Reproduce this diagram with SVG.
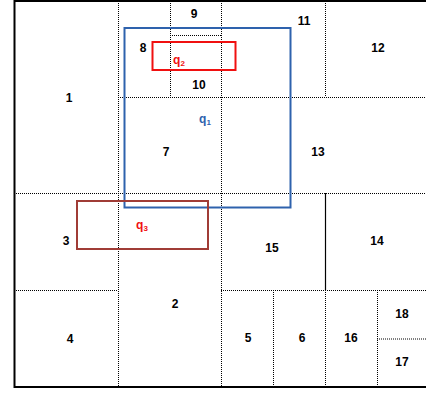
<svg xmlns="http://www.w3.org/2000/svg" width="426" height="393" viewBox="0 0 426 393">
<style>
.d{stroke:#000;stroke-width:1;stroke-dasharray:1 1;fill:none}
.s{stroke:#000;stroke-width:1.2;fill:none}
.b{stroke:#000;stroke-width:2;fill:none}
text{font-family:"Liberation Sans",Arial,sans-serif;font-weight:bold;font-size:12px;text-anchor:middle}
.sub{font-size:8px}
</style>
<rect width="426" height="393" fill="#fff"/>
<g id="connectors">
<line class="d" x1="118.5" y1="1" x2="118.5" y2="387"/>
<line class="d" x1="14" y1="193.5" x2="426" y2="193.5"/>
<line class="d" x1="118" y1="97.5" x2="426" y2="97.5"/>
<line class="d" x1="170.5" y1="1" x2="170.5" y2="97"/>
<line class="d" x1="170" y1="35.5" x2="221" y2="35.5"/>
<line class="d" x1="221.5" y1="1" x2="221.5" y2="387"/>
<line class="d" x1="325.5" y1="1" x2="325.5" y2="97"/>
<line class="s" x1="325.5" y1="193" x2="325.5" y2="290"/>
<line class="d" x1="325.5" y1="290" x2="325.5" y2="387"/>
<line class="d" x1="14" y1="290.5" x2="118" y2="290.5"/>
<line class="d" x1="221" y1="290.5" x2="426" y2="290.5"/>
<line class="d" x1="273.5" y1="290" x2="273.5" y2="387"/>
<line class="d" x1="377.5" y1="290" x2="377.5" y2="387"/>
<line class="d" x1="377" y1="339" x2="426" y2="339"/>
<path class="b" d="M426 1H14.5V387H426"/>
</g>
<g id="q1"><rect x="124.5" y="28" width="166" height="179.5" fill="none" stroke="#2e62ad" stroke-width="2"/>
<text x="205" y="123" fill="#2e62ad">q<tspan class="sub" dy="2">1</tspan></text></g>
<g id="q2"><rect x="152.5" y="42" width="83" height="28" fill="none" stroke="#f01010" stroke-width="2"/>
<text x="179" y="64" fill="#f01010">q<tspan class="sub" dy="2">2</tspan></text></g>
<g id="q3"><rect x="77" y="201" width="131" height="48" fill="none" stroke="#a03c36" stroke-width="2"/>
<text x="142" y="229" fill="#f01010">q<tspan class="sub" dy="2">3</tspan></text></g>
<g id="n1"><text x="69" y="102">1</text></g>
<g id="n9"><text x="194" y="18">9</text></g>
<g id="n8"><text x="143" y="52">8</text></g>
<g id="n10"><text x="199" y="89">10</text></g>
<g id="n11"><text x="304" y="25">11</text></g>
<g id="n12"><text x="378" y="52">12</text></g>
<g id="n7"><text x="166" y="156">7</text></g>
<g id="n13"><text x="318" y="156">13</text></g>
<g id="n3"><text x="66" y="245">3</text></g>
<g id="n15"><text x="272" y="252">15</text></g>
<g id="n14"><text x="377" y="245">14</text></g>
<g id="n2"><text x="175" y="308">2</text></g>
<g id="n4"><text x="70" y="343">4</text></g>
<g id="n5"><text x="248" y="342">5</text></g>
<g id="n6"><text x="302" y="342">6</text></g>
<g id="n16"><text x="351" y="342">16</text></g>
<g id="n18"><text x="402" y="318">18</text></g>
<g id="n17"><text x="402" y="366">17</text></g>
</svg>
